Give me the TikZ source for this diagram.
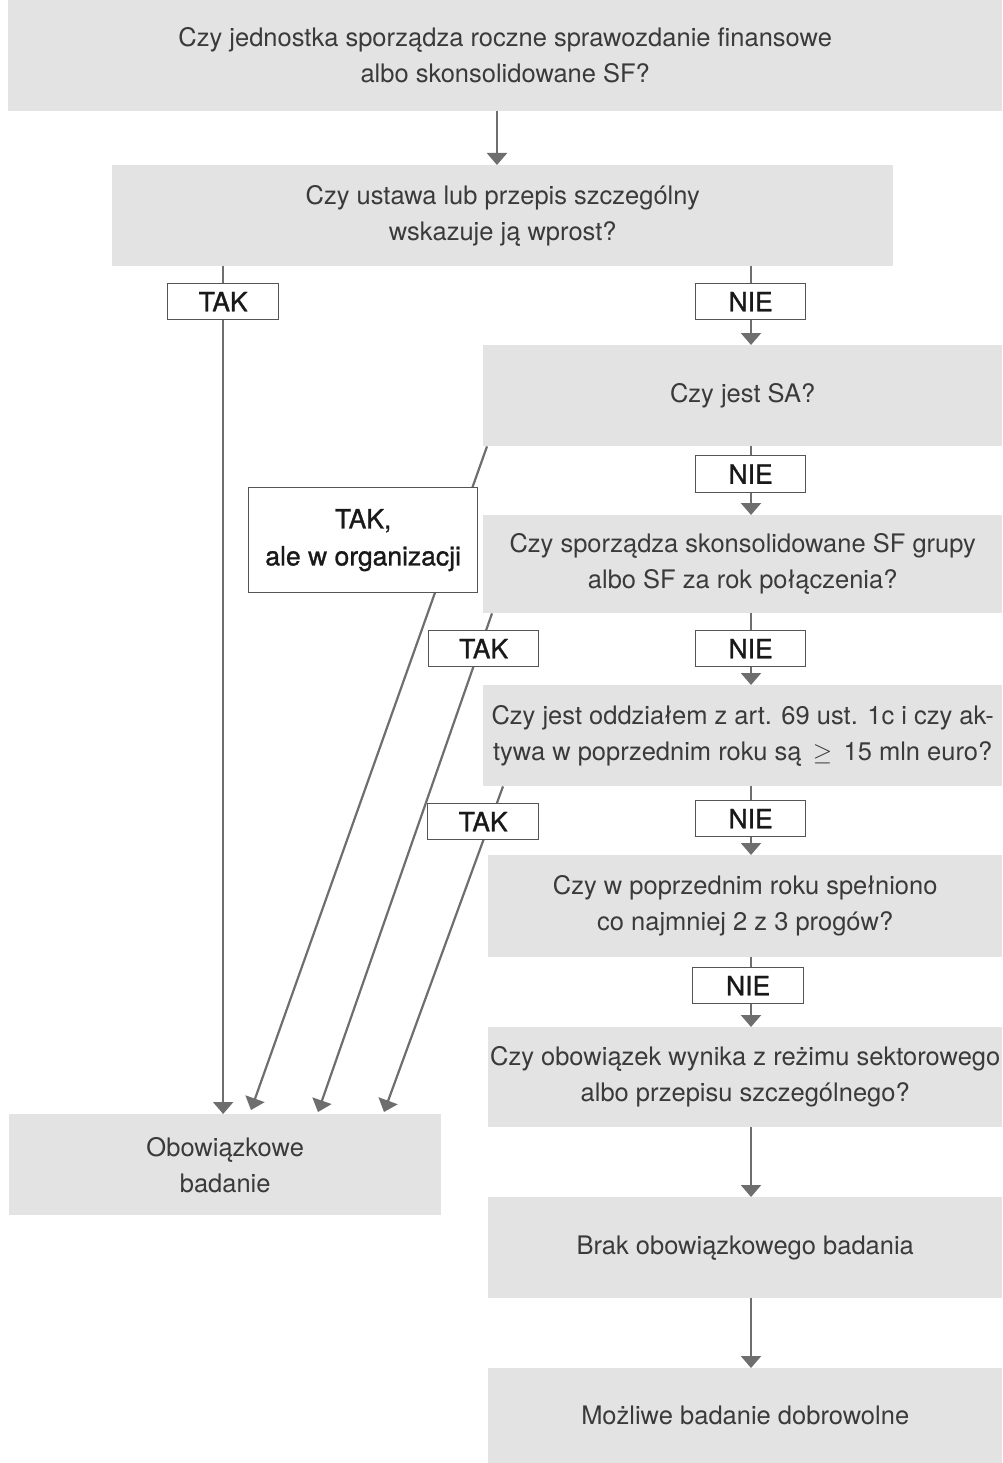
\documentclass[tikz,border=0pt]{standalone}
\usepackage{fontspec}
\setmainfont{TeX Gyre Heros}
\newfontface\labfont{TeX Gyre Heros}[FakeBold=1.1]
\usetikzlibrary{arrows.meta,calc,backgrounds}
\definecolor{boxgray}{HTML}{E3E3E3}
\definecolor{linegray}{HTML}{6E6E6E}
\definecolor{labgray}{HTML}{555555}
\definecolor{txt}{HTML}{3A3A3A}
\begin{document}
\begin{tikzpicture}[x=1pt,y=-1pt,
  box/.style={fill=boxgray, draw=none, inner sep=0pt, align=center, text=txt,
    font=\fontsize{25.5}{36}\selectfont, anchor=north west},
  lab/.style={fill=white, draw=labgray, line width=1.3pt, inner sep=0pt, align=center,
    anchor=north west, text=black!90, font=\labfont\fontsize{26.5}{37}\selectfont},
  arr/.style={draw=linegray, line width=2.2pt, -{Triangle[width=20pt,length=12pt]}},
  ln/.style={draw=linegray, line width=2.2pt}
]
\useasboundingbox (0,0) rectangle (1002,1463);

% grey boxes
\node[box, minimum width=994, minimum height=111] (q1) at (8,0)
  {Czy jednostka sporządza roczne sprawozdanie finansowe\\albo skonsolidowane SF?};
\node[box, minimum width=781, minimum height=101] (q2) at (112,165)
  {Czy ustawa lub przepis szczególny\\wskazuje ją wprost?};
\node[box, minimum width=519, minimum height=101] (q3) at (483,345)
  {Czy jest SA?};
\node[box, minimum width=519, minimum height=98] (q4) at (483,515)
  {Czy sporządza skonsolidowane SF grupy\\albo SF za rok połączenia?};
\node[box, minimum width=519, minimum height=101] (q5) at (483,685)
  {Czy jest oddziałem z art. 69 ust. 1c i czy ak-\\tywa w poprzednim roku są \,$\geq$\, 15 mln euro?};
\node[box, minimum width=514, minimum height=102] (q6) at (488,855)
  {Czy w poprzednim roku spełniono\\co najmniej 2 z 3 progów?};
\node[box, minimum width=514, minimum height=100] (q7) at (488,1027)
  {Czy obowiązek wynika z reżimu sektorowego\\albo przepisu szczególnego?};
\node[box, minimum width=514, minimum height=101] (q8) at (488,1197)
  {Brak obowiązkowego badania};
\node[box, minimum width=514, minimum height=95] (q9) at (488,1368)
  {Możliwe badanie dobrowolne};
\node[box, minimum width=432, minimum height=101] (ob) at (9,1114)
  {Obowiązkowe\\badanie};

% labels
\node[lab, minimum width=111, minimum height=36] (tak1) at (167,283) {TAK};
\node[lab, minimum width=110, minimum height=36] (nie1) at (695,283) {NIE};
\node[lab, minimum width=110, minimum height=37] (nie2) at (695,455) {NIE};
\node[lab, minimum width=229, minimum height=105] (tako) at (248,487) {TAK,\\ale w organizacji};
\node[lab, minimum width=110, minimum height=36] (tak2) at (428,630) {TAK};
\node[lab, minimum width=110, minimum height=36] (nie3) at (695,630) {NIE};
\node[lab, minimum width=111, minimum height=36] (tak3) at (427,803) {TAK};
\node[lab, minimum width=110, minimum height=36] (nie4) at (695,800) {NIE};
\node[lab, minimum width=111, minimum height=36] (nie5) at (692,967) {NIE};

\coordinate (xa) at (497,0);
\coordinate (xr) at (751,0);

\begin{scope}[on background layer]
\draw[arr] (xa |- q1.south) -- (xa |- q2.north);
\draw[arr] (tak1.center |- q2.south) -- (tak1.center |- ob.north);
\draw[arr] (xr |- q2.south) -- (xr |- q3.north);
\draw[arr] (xr |- q3.south) -- (xr |- q4.north);
\draw[arr] (xr |- q4.south) -- (xr |- q5.north);
\draw[arr] (xr |- q5.south) -- (xr |- q6.north);
\draw[arr] (xr |- q6.south) -- (xr |- q7.north);
\draw[arr] (xr |- q7.south) -- (xr |- q8.north);
\draw[arr] (xr |- q8.south) -- (xr |- q9.north);
\draw[arr] ($(q3.south west)+(4,0)$) -- ($(ob.north west)+(242,-4)$);
\draw[arr] ($(q4.south west)+(9,0)$) -- ($(ob.north west)+(309,-2)$);
\draw[arr] ($(q5.south west)+(20,0)$) -- ($(ob.north west)+(375,-2)$);
\end{scope}
\end{tikzpicture}
\end{document}
